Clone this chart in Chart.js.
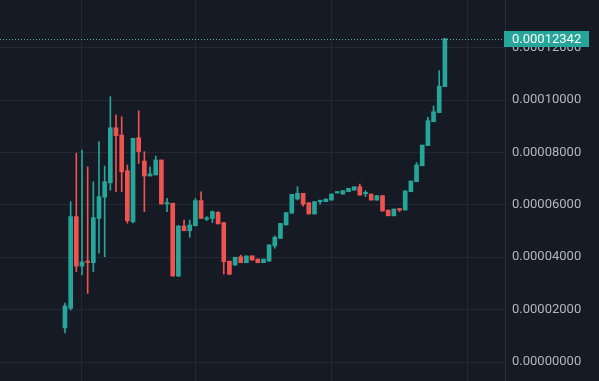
<!DOCTYPE html>
<html>
<head>
<meta charset="utf-8">
<script src="https://cdn.jsdelivr.net/npm/chart.js@4/dist/chart.umd.min.js"></script>
<style>
html,body{margin:0;padding:0;background:#161a25;}
#wrap{width:599px;height:381px;position:relative;}
</style>
</head>
<body>
<div id="wrap"><canvas id="c"></canvas></div>
<script>
// Prices in units of 0.00001
const openP  = [1.30,2.05,5.55,3.66,3.82,3.79,5.48,6.29,6.84,8.94,8.66,7.30,5.35,8.56,7.67,7.10,7.14,7.71,6.03,6.06,3.28,5.19,5.01,5.20,6.16,5.45,5.48,5.71,5.32,3.85,3.70,4.02,3.79,4.05,3.93,3.79,3.85,4.43,4.72,5.23,5.68,6.22,6.44,6.08,5.65,6.12,6.12,6.18,6.45,6.41,6.50,6.56,6.69,6.42,6.41,6.18,6.35,5.80,5.58,5.84,5.80,6.50,6.88,7.49,8.26,9.17,9.52,10.51];
const highP  = [2.25,6.12,7.97,8.09,7.45,6.88,8.41,7.48,10.13,9.43,9.36,7.52,8.54,9.59,8.03,7.45,7.86,7.71,6.25,6.06,5.22,5.42,5.42,6.24,6.50,5.55,5.77,5.74,5.32,3.85,4.00,4.08,4.05,4.05,3.93,3.93,4.47,4.81,5.29,5.70,6.40,6.69,6.44,6.08,6.12,6.16,6.22,6.41,6.48,6.54,6.63,6.69,6.79,6.54,6.41,6.35,6.35,5.80,5.84,5.84,6.53,6.91,7.61,8.28,9.34,9.77,11.12,12.342];
const lowP   = [1.11,1.98,3.45,3.32,2.62,3.45,4.15,4.02,6.56,6.50,6.50,5.30,5.31,7.58,5.74,7.10,7.14,6.03,5.74,3.28,3.26,5.01,4.76,5.20,5.48,5.40,5.32,5.27,3.36,3.33,3.70,3.79,3.79,3.89,3.79,3.79,3.85,4.34,4.72,5.23,5.68,6.18,5.95,5.65,5.65,6.02,6.12,6.18,6.45,6.41,6.50,6.56,6.37,6.31,6.18,6.18,5.76,5.58,5.58,5.74,5.80,6.50,6.88,7.49,8.26,9.17,9.52,10.51];
const closeP = [2.14,5.55,3.66,3.82,3.80,5.51,6.31,6.88,8.94,8.64,7.26,5.39,8.54,8.03,7.10,7.18,7.71,6.03,6.08,3.28,5.19,5.01,5.23,6.16,5.48,5.50,5.74,5.27,3.83,3.35,4.00,3.79,4.05,3.89,3.79,3.93,4.47,4.76,5.29,5.70,6.40,6.44,6.02,5.65,6.12,6.16,6.22,6.41,6.48,6.54,6.63,6.69,6.37,6.45,6.18,6.35,5.76,5.58,5.84,5.80,6.53,6.91,7.52,8.28,9.21,9.55,10.53,12.342];
const yTicks = [0,2,4,6,8,10,12];
const xGridTicks = [3,23,47,71];
const lastPrice = 12.342;

const UP = '#26a69a', DOWN = '#ef5350';
const idx = openP.map((_, i) => i);
const colorOf = i => closeP[i] >= openP[i] ? UP : DOWN;
const fmt = v => (v / 100000).toFixed(8);
const FONT = "Roboto, 'Liberation Sans', sans-serif";
const noPad = s => { s.paddingTop = 0; s.paddingBottom = 0; s.paddingLeft = 0; s.paddingRight = 0; };

const bgPlugin = {
  id: 'bg',
  beforeDraw(chart) {
    const c = chart.ctx;
    c.save(); c.fillStyle = '#161a25'; c.fillRect(0, 0, chart.width, chart.height); c.restore();
  }
};
const pricePlugin = {
  id: 'price',
  afterDatasetsDraw(chart) {
    const c = chart.ctx, a = chart.chartArea, y = Math.round(chart.scales.y.getPixelForValue(lastPrice)) + 0.5;
    c.save();
    c.strokeStyle = 'rgba(120,185,190,0.9)'; c.lineWidth = 1; c.setLineDash([1, 2]);
    c.beginPath(); c.moveTo(a.left, y); c.lineTo(a.right, y); c.stroke();
    c.restore();
  },
  afterDraw(chart) {
    const c = chart.ctx, a = chart.chartArea, y = chart.scales.y.getPixelForValue(lastPrice);
    c.save();
    c.fillStyle = UP;
    c.fillRect(a.right - 1, Math.round(y) - 8, 85, 16);
    c.fillStyle = '#ffffff'; c.font = '13px ' + FONT; c.textBaseline = 'middle'; c.textAlign = 'left';
    c.fillText(fmt(lastPrice), a.right + 7, y + 1);
    c.restore();
  }
};

new Chart(document.getElementById('c'), {
  type: 'bar',
  data: {
    datasets: [
      {
        label: 'wick',
        data: idx.map(i => ({x: i, y: [lowP[i], highP[i]]})),
        backgroundColor: idx.map(colorOf),
        barThickness: 1,
        grouped: false,
        minBarLength: 1,
        borderSkipped: false
      },
      {
        label: 'body',
        data: idx.map(i => ({x: i, y: [openP[i], closeP[i]]})),
        backgroundColor: idx.map(colorOf),
        barThickness: 4,
        grouped: false,
        minBarLength: 1.5,
        borderSkipped: false
      }
    ]
  },
  plugins: [bgPlugin, pricePlugin],
  options: {
    responsive: true,
    maintainAspectRatio: false,
    animation: false,
    layout: {padding: 0},
    plugins: {legend: {display: false}, tooltip: {enabled: false}},
    scales: {
      x: {
        type: 'linear',
        min: -11.46, max: 77.6,
        offset: false,
        afterBuildTicks: s => { s.ticks = xGridTicks.map(v => ({value: v})); },
        afterFit: s => { s.height = 0; noPad(s); },
        ticks: {display: false},
        border: {display: false},
        grid: {color: '#242834', drawTicks: false, offset: false}
      },
      y: {
        position: 'right',
        min: -0.725, max: 13.817,
        afterBuildTicks: s => { s.ticks = yTicks.map(v => ({value: v})); },
        afterFit: s => { s.width = 94; noPad(s); },
        ticks: {
          color: '#b2b5be', padding: 7,
          font: {family: FONT, size: 13},
          callback: v => fmt(v)
        },
        border: {display: true, color: '#2a2e39'},
        grid: {color: '#242834', drawTicks: false}
      }
    }
  }
});
</script>
</body>
</html>
